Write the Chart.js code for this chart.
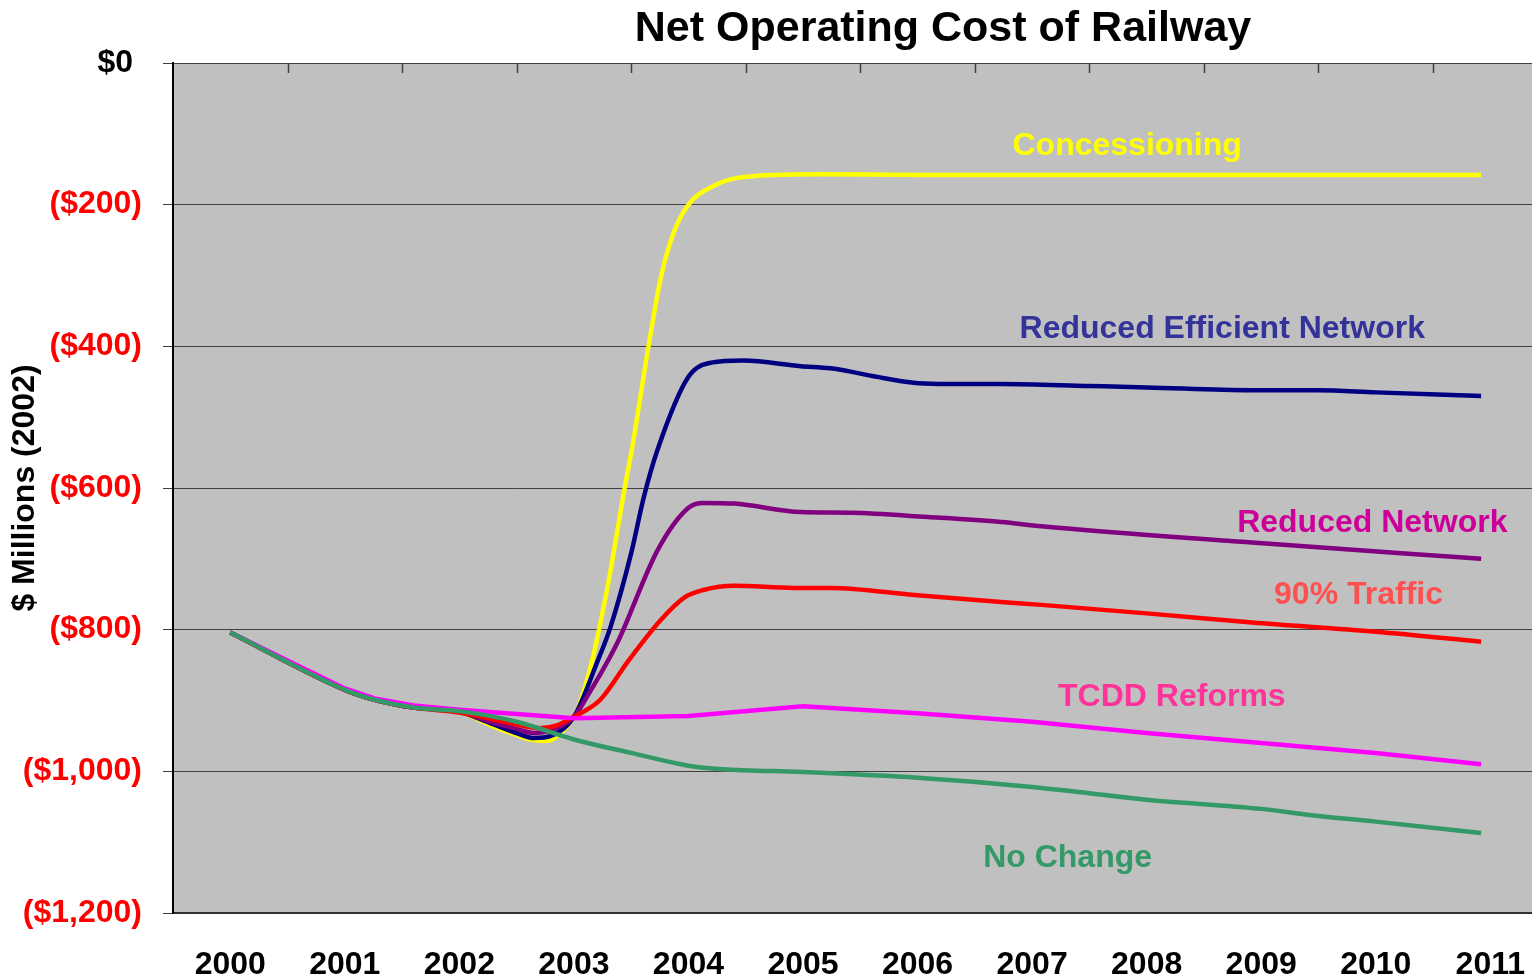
<!DOCTYPE html>
<html>
<head>
<meta charset="utf-8">
<title>Net Operating Cost of Railway</title>
<script src="https://cdn.jsdelivr.net/npm/chart.js@4.4.1/dist/chart.umd.min.js"></script>
<style>
  html, body { margin: 0; padding: 0; background: #fff; overflow: hidden; }
  canvas { display: block; }
</style>
</head>
<body>
<canvas id="railway" width="1558" height="978"></canvas>
<script>
// year tick labels on the x axis
const years = [2000, 2001, 2002, 2003, 2004, 2005, 2006, 2007, 2008, 2009, 2010, 2011];
const yTicks = [0, -200, -400, -600, -800, -1000, -1200];

// net operating cost per scenario, [year, $ millions]
const concessioning = [
  [2000, -804], [2001, -885], [2001.26, -899], [2001.6, -910], [2002, -916],
  [2002.27, -935], [2002.5, -949], [2002.62, -955], [2002.75, -957], [2002.83, -953],
  [2003, -923], [2003.06, -900], [2003.16, -843], [2003.3, -734], [2003.44, -603],
  [2003.51, -542], [2003.65, -401], [2003.76, -302], [2003.87, -240], [2004, -200],
  [2004.2, -175], [2004.48, -161], [2005.13, -157], [2006, -158], [2007, -158],
  [2008, -158], [2009, -158], [2010, -158], [2010.92, -158]
];
const reducedEfficient = [
  [2000, -804], [2001, -885], [2001.26, -899], [2001.6, -910], [2002, -916],
  [2002.27, -932], [2002.5, -946], [2002.65, -953], [2002.8, -950], [2003, -923],
  [2003.21, -843], [2003.32, -796], [2003.5, -692], [2003.61, -613], [2003.73, -546],
  [2004, -443], [2004.2, -423], [2004.48, -420], [2004.98, -428], [2005.24, -431],
  [2005.71, -445], [2006.01, -452], [2006.27, -453], [2006.73, -453], [2007.5, -456],
  [2008, -458], [2008.92, -462], [2009.5, -462], [2010, -465], [2010.92, -470]
];
const reducedNetwork = [
  [2000, -804], [2001, -885], [2001.26, -899], [2001.6, -910], [2002, -916],
  [2002.27, -930], [2002.5, -940], [2002.65, -946], [2002.8, -942], [2003, -923],
  [2003.15, -885], [2003.3, -843], [2003.39, -815], [2003.73, -688], [2004, -628],
  [2004.13, -621], [2004.4, -622], [2004.98, -634], [2005.42, -635], [2006.09, -641],
  [2006.73, -648], [2007.08, -654], [2008.83, -676], [2010.92, -700]
];
const traffic90 = [
  [2000, -804], [2001, -885], [2001.26, -899], [2001.6, -910], [2002, -917],
  [2002.27, -926], [2002.5, -934], [2002.7, -939], [2002.85, -935], [2003, -923],
  [2003.06, -918], [2003.23, -899], [2003.48, -843], [2003.76, -786], [2003.96, -755],
  [2004.13, -744], [2004.4, -738], [2004.92, -741], [2005.24, -741], [2005.97, -751],
  [2006.73, -761], [2007.08, -765], [2008, -777], [2008.92, -790], [2010, -803],
  [2010.92, -817]
];
const tcddReforms = [
  [2000, -804], [2001, -883], [2001.26, -897], [2001.6, -907], [2002, -913],
  [2003, -925], [2004, -922], [2005, -908], [2006, -918], [2007, -930],
  [2008, -946], [2009, -960], [2010, -974], [2010.92, -990]
];
const noChange = [
  [2000, -804], [2001, -885], [2001.26, -899], [2001.6, -910], [2002, -915],
  [2002.5, -930], [2003, -955], [2003.5, -974], [2004, -992], [2004.3, -997],
  [2005, -1001], [2006, -1009], [2007, -1022], [2007.5, -1031], [2008, -1040],
  [2009, -1053], [2009.44, -1062], [2010, -1071], [2010.92, -1087]
];

const FONT = "'Liberation Sans', Arial, sans-serif";

const series = [
  { label: 'Concessioning', data: concessioning, color: '#FFFF00', order: 6 },
  { label: 'Reduced Efficient Network', data: reducedEfficient, color: '#000080', order: 5 },
  { label: 'Reduced Network', data: reducedNetwork, color: '#800080', order: 4 },
  { label: '90% Traffic', data: traffic90, color: '#FF0000', order: 3 },
  { label: 'TCDD Reforms', data: tcddReforms, color: '#FF00FF', order: 2, straight: true },
  { label: 'No Change', data: noChange, color: '#339966', order: 1 }
];

// in-plot captions, placed in data units
const captions = [
  { text: 'Concessioning', x: 2007.83, y: -117, color: '#FFFF00' },
  { text: 'Reduced Efficient Network', x: 2008.66, y: -376, color: '#333399' },
  { text: 'Reduced Network', x: 2009.97, y: -649, color: '#CC0099' },
  { text: '90% Traffic', x: 2009.85, y: -751, color: '#FF5050' },
  { text: 'TCDD Reforms', x: 2008.22, y: -895, color: '#FF3399' },
  { text: 'No Change', x: 2007.31, y: -1122, color: '#339966' }
];

const plotBackground = {
  id: 'plotBackground',
  beforeDraw(chart) {
    const { ctx, chartArea: a } = chart;
    ctx.save();
    ctx.fillStyle = '#C0C0C0';
    ctx.fillRect(a.left, a.top, a.right - a.left, a.bottom - a.top);
    ctx.restore();
  }
};

// category tick marks hang down from the top edge, between the years
const topTicks = {
  id: 'topTicks',
  afterDraw(chart) {
    const { ctx, chartArea: a } = chart;
    const x = chart.scales.x;
    ctx.save();
    ctx.strokeStyle = '#404040';
    ctx.lineWidth = 1.5;
    years.slice(0, -1).forEach(yr => {
      const px = Math.round(x.getPixelForValue(yr + 0.5)) + 0.5;
      ctx.beginPath();
      ctx.moveTo(px, a.top);
      ctx.lineTo(px, a.top + 10);
      ctx.stroke();
    });
    ctx.restore();
  }
};

const chartTitle = {
  id: 'chartTitle',
  afterDraw(chart) {
    const { ctx, chartArea: a } = chart;
    ctx.save();
    ctx.font = 'bold 43px ' + FONT;
    ctx.fillStyle = '#000';
    ctx.textAlign = 'center';
    ctx.textBaseline = 'middle';
    ctx.fillText('Net Operating Cost of Railway', a.left + 770, a.top - 34);
    ctx.restore();
  }
};

const seriesCaptions = {
  id: 'seriesCaptions',
  afterDatasetsDraw(chart) {
    const { ctx } = chart;
    const { x, y } = chart.scales;
    ctx.save();
    ctx.font = 'bold 32px ' + FONT;
    ctx.textAlign = 'center';
    ctx.textBaseline = 'middle';
    captions.forEach(c => {
      ctx.fillStyle = c.color;
      ctx.fillText(c.text, x.getPixelForValue(c.x), y.getPixelForValue(c.y));
    });
    ctx.restore();
  }
};

new Chart(document.getElementById('railway'), {
  type: 'line',
  data: {
    datasets: series.map(s => ({
      label: s.label,
      data: s.data.map(([x, y]) => ({ x, y })),
      borderColor: s.color,
      backgroundColor: s.color,
      borderWidth: 4.5,
      pointRadius: 0,
      tension: 0,
      cubicInterpolationMode: s.straight ? 'default' : 'monotone',
      order: s.order
    }))
  },
  options: {
    responsive: false,
    animation: false,
    layout: { padding: { top: 63, left: 0, right: 0, bottom: 0 } },
    plugins: {
      legend: { display: false },
      tooltip: { enabled: false }
    },
    scales: {
      x: {
        type: 'linear',
        min: 1999.5,
        max: 2011.5,
        afterBuildTicks: scale => { scale.ticks = years.map(v => ({ value: v })); },
        afterFit: scale => { scale.height = 65; },
        grid: { display: false, drawTicks: false },
        border: { display: true, color: '#333', width: 2 },
        ticks: {
          padding: 33,
          color: '#000',
          font: { family: FONT, size: 32, weight: 'bold' },
          callback: v => String(v)
        }
      },
      y: {
        min: -1200,
        max: 0,
        afterBuildTicks: scale => { scale.ticks = yTicks.map(v => ({ value: v })); },
        afterFit: scale => { scale.width = 173; },
        grid: { color: '#404040', lineWidth: 1, tickLength: 10 },
        border: { display: true, color: '#000', width: 2 },
        ticks: {
          padding: 21,
          font: { family: FONT, size: 32, weight: 'bold' },
          color: c => (c.tick && c.tick.value === 0 ? '#000' : '#FF0000'),
          callback: v => (v === 0 ? '$0 ' : '($' + Math.abs(v).toLocaleString('en-US') + ')')
        },
        title: {
          display: true,
          text: '$ Millions (2002)',
          color: '#000',
          font: { family: FONT, size: 32, weight: 'bold' },
          padding: { top: 6, bottom: 0 }
        }
      }
    }
  },
  plugins: [plotBackground, topTicks, chartTitle, seriesCaptions]
});
</script>
</body>
</html>
